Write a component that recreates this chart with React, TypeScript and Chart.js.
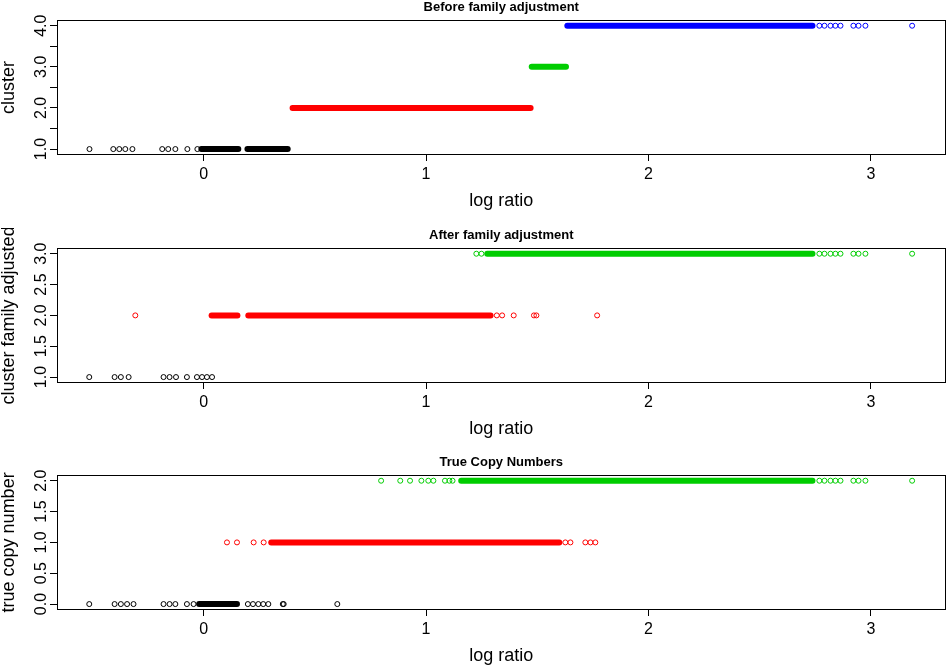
import React, { useEffect, useRef } from 'react';
import { Chart, registerables } from 'chart.js';
Chart.register(...registerables);

const FONT = "'Liberation Sans', Arial, Helvetica, sans-serif";
const BLACK = '#000000';
const RED = '#FF0000';
const GREEN = '#00CD00';
const BLUE = '#0000FF';

// shared x axis
const xMin = -0.659;
const xMax = 3.335;
const xTicks = [0, 1, 2, 3];
const xTickLabels = ['0', '1', '2', '3'];
const xTitle = 'log ratio';

// ---- Panel 1: Before family adjustment ----
const p1Title = 'Before family adjustment';
const p1YTitle = 'cluster';
const p1YRange = [0.88, 4.12];
const p1YTicks = [1, 1.5, 2, 2.5, 3, 3.5, 4];
const p1YTickLabels = ['1.0', '', '2.0', '', '3.0', '', '4.0'];
const p1Cluster1Points = [-0.513, -0.406, -0.379, -0.352, -0.32, -0.186, -0.159, -0.127, -0.073, -0.028];
const p1Cluster1Runs = [[-0.01, 0.156], [0.197, 0.378]];
const p1Cluster2Runs = [[0.4, 1.47]];
const p1Cluster3Runs = [[1.475, 1.629]];
const p1Cluster4Runs = [[1.635, 2.737]];
const p1Cluster4Points = [2.768, 2.791, 2.818, 2.84, 2.863, 2.921, 2.944, 2.975, 3.185];

// ---- Panel 2: After family adjustment ----
const p2Title = 'After family adjustment';
const p2YTitle = 'cluster family adjusted';
const p2YRange = [0.92, 3.08];
const p2YTicks = [1, 1.5, 2, 2.5, 3];
const p2YTickLabels = ['1.0', '1.5', '2.0', '2.5', '3.0'];
const p2Cluster1Points = [-0.514, -0.4, -0.372, -0.337, -0.18, -0.153, -0.124, -0.075, -0.03, -0.007, 0.015, 0.038];
const p2Cluster2Points = [-0.307, 1.318, 1.342, 1.394, 1.485, 1.496, 1.769];
const p2Cluster2Runs = [[0.036, 0.152], [0.201, 1.29]];
const p2Cluster3Points = [1.226, 1.249, 2.768, 2.791, 2.818, 2.84, 2.863, 2.921, 2.944, 2.975, 3.185];
const p2Cluster3Runs = [[1.275, 2.737]];

// ---- Panel 3: True Copy Numbers ----
const p3Title = 'True Copy Numbers';
const p3YTitle = 'true copy number';
const p3YRange = [-0.08, 2.08];
const p3YTicks = [0, 0.5, 1, 1.5, 2];
const p3YTickLabels = ['0.0', '0.5', '1.0', '1.5', '2.0'];
const p3Copy0Points = [-0.514, -0.4, -0.372, -0.344, -0.315, -0.18, -0.153, -0.127, -0.075, -0.045, 0.199, 0.222, 0.246, 0.268, 0.291, 0.356, 0.36, 0.601];
const p3Copy0Runs = [[-0.02, 0.15]];
const p3Copy1Points = [0.105, 0.15, 0.225, 0.27, 1.626, 1.649, 1.716, 1.739, 1.761];
const p3Copy1Runs = [[0.304, 1.599]];
const p3Copy2Points = [0.798, 0.884, 0.928, 0.979, 1.01, 1.033, 1.085, 1.105, 1.119, 2.768, 2.791, 2.818, 2.84, 2.863, 2.921, 2.944, 2.975, 3.185];
const p3Copy2Runs = [[1.158, 2.737]];

type Group = { y: number; color: string; points: number[]; runs: number[][] };

const panels = [
  {
    top: 0, title: p1Title, yTitle: p1YTitle, yRange: p1YRange, yTicks: p1YTicks, yTickLabels: p1YTickLabels,
    groups: [
      { y: 1, color: BLACK, points: p1Cluster1Points, runs: p1Cluster1Runs },
      { y: 2, color: RED, points: [], runs: p1Cluster2Runs },
      { y: 3, color: GREEN, points: [], runs: p1Cluster3Runs },
      { y: 4, color: BLUE, points: p1Cluster4Points, runs: p1Cluster4Runs },
    ] as Group[],
  },
  {
    top: 228, title: p2Title, yTitle: p2YTitle, yRange: p2YRange, yTicks: p2YTicks, yTickLabels: p2YTickLabels,
    groups: [
      { y: 1, color: BLACK, points: p2Cluster1Points, runs: [] },
      { y: 2, color: RED, points: p2Cluster2Points, runs: p2Cluster2Runs },
      { y: 3, color: GREEN, points: p2Cluster3Points, runs: p2Cluster3Runs },
    ] as Group[],
  },
  {
    top: 455, title: p3Title, yTitle: p3YTitle, yRange: p3YRange, yTicks: p3YTicks, yTickLabels: p3YTickLabels,
    groups: [
      { y: 0, color: BLACK, points: p3Copy0Points, runs: p3Copy0Runs },
      { y: 1, color: RED, points: p3Copy1Points, runs: p3Copy1Runs },
      { y: 2, color: GREEN, points: p3Copy2Points, runs: p3Copy2Runs },
    ] as Group[],
  },
];

function buildDatasets(groups: Group[]) {
  const ds: any[] = [];
  groups.forEach((g) => {
    g.runs.forEach((r) => {
      ds.push({
        data: [{ x: r[0], y: g.y }, { x: r[1], y: g.y }],
        showLine: true,
        borderColor: g.color,
        borderWidth: 6,
        borderCapStyle: 'round',
        pointRadius: 0,
        fill: false,
      });
    });
    if (g.points.length) {
      ds.push({
        data: g.points.map((x) => ({ x, y: g.y })),
        showLine: false,
        pointStyle: 'circle',
        pointRadius: 2.5,
        pointBorderWidth: 1,
        borderWidth: 1,
        pointBorderColor: g.color,
        borderColor: g.color,
        pointBackgroundColor: 'rgba(0,0,0,0)',
        backgroundColor: 'rgba(0,0,0,0)',
      });
    }
  });
  return ds;
}

const CANVAS_W = 946;
const CANVAS_H = 212;

function Panel(props: any) {
  const ref = useRef<HTMLCanvasElement | null>(null);
  useEffect(() => {
    if (!ref.current) return;
    const { title, yTitle, yRange, yTicks, yTickLabels, groups } = props;
    const boxPlugin = {
      id: 'rbox',
      afterDatasetsDraw(chart: any) {
        const { ctx, chartArea } = chart;
        ctx.save();
        ctx.strokeStyle = '#000';
        ctx.lineWidth = 1;
        const l = Math.floor(chartArea.left) + 0.5;
        const r = Math.floor(chartArea.right) + 0.5;
        const t = Math.floor(chartArea.top) + 0.5;
        const b = Math.floor(chartArea.bottom) + 0.5;
        ctx.strokeRect(l, t, r - l, b - t);
        ctx.restore();
      },
    };
    const yLabelPlugin = {
      id: 'yRotLabels',
      afterDraw(chart: any) {
        const { ctx } = chart;
        const s = chart.scales.y;
        ctx.save();
        ctx.fillStyle = '#000';
        ctx.font = `16px ${FONT}`;
        ctx.textAlign = 'center';
        ctx.textBaseline = 'alphabetic';
        yTicks.forEach((v: number, i: number) => {
          const lab = yTickLabels[i];
          if (!lab) return;
          const py = s.getPixelForValue(v);
          ctx.save();
          ctx.translate(45.5, py);
          ctx.rotate(-Math.PI / 2);
          ctx.fillText(lab, 0, 0);
          ctx.restore();
        });
        ctx.restore();
      },
    };
    const chart = new Chart(ref.current, {
      type: 'scatter',
      data: { datasets: buildDatasets(groups) },
      plugins: [boxPlugin, yLabelPlugin],
      options: {
        animation: false,
        responsive: false,
        events: [],
        layout: { autoPadding: false, padding: { left: 0, right: 0.5, top: 0, bottom: 0 } },
        plugins: {
          legend: { display: false },
          tooltip: { enabled: false },
          title: {
            display: true,
            text: title,
            fullSize: false,
            color: '#000',
            font: { family: FONT, size: 13, weight: 'bold', lineHeight: 1 },
            padding: { top: 0.5, bottom: 7.3 },
          },
        },
        scales: {
          x: {
            type: 'linear',
            min: xMin,
            max: xMax,
            afterBuildTicks: (s: any) => { s.ticks = xTicks.map((v) => ({ value: v })); },
            afterFit: (s: any) => { s.height = CANVAS_H - 154; },
            border: { display: false },
            grid: { drawOnChartArea: false, drawTicks: true, tickLength: 7, color: '#000', lineWidth: 1 },
            ticks: {
              color: '#000',
              font: { family: FONT, size: 16, lineHeight: 1.2 },
              padding: 4,
              maxRotation: 0,
              minRotation: 0,
              autoSkip: false,
              callback: (_v: any, i: number) => xTickLabels[i],
            },
            title: {
              display: true,
              text: xTitle,
              color: '#000',
              font: { family: FONT, size: 18, lineHeight: 1 },
              padding: { top: 0, bottom: 2 },
            },
          },
          y: {
            type: 'linear',
            min: yRange[0],
            max: yRange[1],
            afterBuildTicks: (s: any) => { s.ticks = yTicks.map((v: number) => ({ value: v })); },
            afterFit: (s: any) => { s.width = 57; },
            border: { display: false },
            grid: { drawOnChartArea: false, drawTicks: true, tickLength: 7, color: '#000', lineWidth: 1 },
            ticks: { display: false },
            title: {
              display: true,
              text: yTitle,
              color: '#000',
              font: { family: FONT, size: 18, lineHeight: 1 },
              padding: { top: 0, bottom: 0 },
            },
          },
        },
      } as any,
    });
    return () => chart.destroy();
  }, []);
  return (
    <div style={{ position: 'absolute', left: 0, top: props.top, width: CANVAS_W, height: CANVAS_H }}>
      <canvas ref={ref} width={CANVAS_W} height={CANVAS_H} style={{ display: 'block', width: CANVAS_W, height: CANVAS_H }} />
    </div>
  );
}

export default function App() {
  return (
    <div style={{ position: 'absolute', left: 0, top: 0, width: 946, height: 668, overflow: 'hidden', background: '#fff' }}>
      {panels.map((p, i) => (
        <Panel key={i} {...p} />
      ))}
    </div>
  );
}
